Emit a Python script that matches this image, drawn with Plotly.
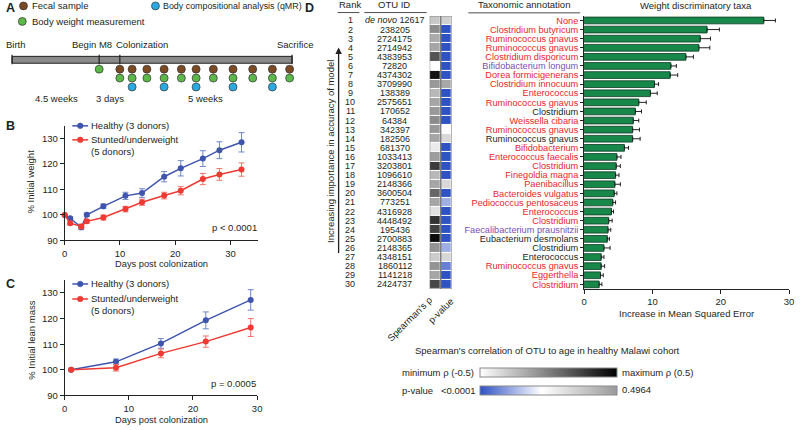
import plotly.graph_objects as go

FONT = "Liberation Sans, Arial, sans-serif"
TXT = "#231f20"
W, H = 800, 430

# ---------------- Panel A (schematic timeline; positions in schematic days) ----------------
birth_pos = -21.9
m8_pos = -4.2
colon_pos = 0.0
sacrifice_pos = 35.0
sample_days = [0, 2.5, 5.5, 9, 12.5, 15.5, 19, 23, 27, 31, 34.5]
qmr_days = [2.5, 9, 15.5, 23, 31]
m8_weight_day = [-4.2]

# ---------------- Panel B: % initial weight ----------------
days_w = [0, 1, 3, 4, 7, 11, 14, 18, 21, 25, 28, 32]
healthy_w = [100, 98.7, 95.2, 100.1, 103.4, 107.5, 108.6, 115.0, 118.3, 122.1, 125.4, 128.5]
healthy_w_err = [0, 0.5, 1.0, 0.6, 0.9, 1.4, 1.7, 2.0, 3.0, 3.1, 3.3, 3.8]
stunted_w = [100, 96.8, 95.5, 97.5, 99.0, 102.3, 105.0, 107.6, 109.5, 114.1, 115.9, 117.8]
stunted_w_err = [0, 0.7, 0.9, 0.7, 1.0, 1.1, 1.2, 1.3, 1.6, 2.2, 2.3, 2.6]

# ---------------- Panel C: % initial lean mass ----------------
days_l = [1, 8, 15, 22, 29]
healthy_l = [100, 103.1, 110.3, 119.3, 127.3]
healthy_l_err = [0, 1.1, 1.9, 3.3, 4.0]
stunted_l = [100, 100.8, 106.4, 111.0, 116.5]
stunted_l_err = [0, 1.3, 1.7, 2.2, 3.5]

# ---------------- Panel D ----------------
ranks = list(range(1, 31))
otu_ids = ["<i>de novo</i> 12617", "238205", "2724175", "2714942", "4383953", "72820", "4374302",
           "3709990", "138389", "2575651", "170652", "64384", "342397", "182506", "681370",
           "1033413", "3203801", "1096610", "2148366", "3600504", "773251", "4316928", "4448492",
           "195436", "2700883", "2148365", "4348151", "1860112", "1141218", "2424737"]
taxa = ["None", "Clostridium butyricum", "Ruminococcus gnavus", "Ruminococcus gnavus",
        "Clostridium disporicum", "Bifidobacterium longum", "Dorea formicigenerans",
        "Clostridium innocuum", "Enterococcus", "Ruminococcus gnavus", "Clostridium",
        "Weissella cibaria", "Ruminococcus gnavus", "Ruminococcus gnavus", "Bifidobacterium",
        "Enterococcus faecalis", "Clostridium", "Finegoldia magna", "Paenibacillus",
        "Bacteroides vulgatus", "Pediococcus pentosaceus", "Enterococcus", "Clostridium",
        "Faecalibacterium prausnitzii", "Eubacterium desmolans", "Clostridium", "Enterococcus",
        "Ruminococcus gnavus", "Eggerthella", "Clostridium"]
taxa_group = ["r", "r", "r", "r", "r", "p", "r", "r", "r", "r", "k", "r", "r", "k", "r",
              "r", "r", "r", "r", "r", "r", "r", "r", "p", "k", "k", "k", "r", "r", "r"]
mse = [26.3, 18.0, 17.0, 16.8, 14.9, 12.7, 12.6, 10.3, 9.7, 8.0, 7.5, 7.2, 7.1, 7.1, 5.9,
       4.8, 4.7, 4.6, 4.5, 4.4, 4.2, 4.0, 3.6, 3.5, 3.4, 2.9, 2.5, 2.5, 2.4, 2.2]
mse_err = [1.7, 1.8, 1.5, 1.6, 1.1, 0.8, 1.1, 0.6, 1.0, 1.1, 0.9, 0.8, 1.0, 1.1, 0.6,
           0.6, 0.6, 0.5, 0.8, 0.4, 0.4, 0.3, 0.5, 0.4, 0.3, 0.9, 0.4, 0.5, 0.4, 0.4]
rho = [-0.28, -0.05, -0.17, -0.15, 0.17, -0.5, 0.43, -0.1, -0.22, -0.15, -0.1, -0.05, -0.1,
       -0.15, -0.42, -0.12, 0.27, -0.22, -0.15, 0.1, -0.15, -0.38, 0.3, 0.25, 0.45, -0.08,
       -0.3, -0.08, -0.15, 0.22]
pval = [0.35, 0.001, 0.001, 0.001, 0.001, 0.001, 0.001, 0.46, 0.001, 0.001, 0.001, 0.001,
        0.23, 0.33, 0.001, 0.001, 0.001, 0.001, 0.33, 0.001, 0.12, 0.001, 0.001, 0.001,
        0.001, 0.12, 0.33, 0.06, 0.001, 0.001]

GROUP_COLORS = {"r": "#e8262b", "p": "#7a4fb3", "k": "#231f20"}
BLUE = "#3f55ad"
RED = "#ee3a33"
BROWN = "#7b4a22"
GREEN = "#5bb849"
CYAN = "#2ba9e1"
BARGREEN = "#17884a"


def px(x):
    return x / W


def py(y):
    return 1 - y / H


annotations = []
shapes = []


def txt(s, x, y, size=9.3, anchor="left", color=TXT, **kw):
    annotations.append(dict(text=s, x=px(x), y=py(y), xref="paper", yref="paper",
                            xanchor=anchor, yanchor="middle", showarrow=False,
                            font=dict(size=size, color=color, family=FONT), **kw))


def pline(x0, y0, x1, y1, color=TXT, width=1):
    shapes.append(dict(type="line", xref="paper", yref="paper", x0=px(x0), y0=py(y0),
                       x1=px(x1), y1=py(y1), line=dict(color=color, width=width)))


def pcircle(cx, cy, r, fill, line="#333333"):
    shapes.append(dict(type="circle", xref="paper", yref="paper", x0=px(cx - r), x1=px(cx + r),
                       y0=py(cy + r), y1=py(cy - r), fillcolor=fill,
                       line=dict(color=line, width=0.7)))


fig = go.Figure()

# ---------- Panel A ----------
mk = dict(size=8, line=dict(color="#333333", width=0.7))
fig.add_trace(go.Scatter(x=sample_days, y=[1] * len(sample_days), mode="markers",
                         marker=dict(color=BROWN, **mk), xaxis="x5", yaxis="y5", cliponaxis=False))
fig.add_trace(go.Scatter(x=sample_days, y=[2] * len(sample_days), mode="markers",
                         marker=dict(color=GREEN, **mk), xaxis="x5", yaxis="y5", cliponaxis=False))
fig.add_trace(go.Scatter(x=m8_weight_day, y=[1], mode="markers",
                         marker=dict(color=GREEN, **mk), xaxis="x5", yaxis="y5", cliponaxis=False))
fig.add_trace(go.Scatter(x=qmr_days, y=[3] * len(qmr_days), mode="markers",
                         marker=dict(color=CYAN, **mk), xaxis="x5", yaxis="y5", cliponaxis=False))
shapes.append(dict(type="rect", xref="x5", yref="y5", x0=birth_pos, x1=sacrifice_pos,
                   y0=-0.44, y1=0.33, fillcolor="#8a8a8a", line=dict(color="#222222", width=1)))
for pos in [birth_pos, m8_pos, colon_pos, sacrifice_pos]:
    shapes.append(dict(type="line", xref="x5", yref="y5", x0=pos, x1=pos, y0=-0.62, y1=0.45,
                       line=dict(color="#222222", width=1.2)))

txt("<b>A</b>", 1, 8, size=12.5)
pcircle(20.7, 6, 4, BROWN)
pcircle(19.5, 21.7, 4, GREEN)
pcircle(154, 6, 4, CYAN)
txt("Fecal sample", 27, 6, size=9.5)
txt("Body weight measurement", 27, 22, size=9.5)
txt("Body compositional analysis (qMR)", 160, 6, size=8.9)
txt("Birth", 1, 45, size=9.5)
txt("Begin M8", 90, 45, size=9.5, anchor="center")
txt("Colonization", 112, 45, size=9.5)
txt("Sacrifice", 295, 45, size=9.5, anchor="center")
txt("4.5 weeks", 54, 100, size=9.5, anchor="center")
txt("3 days", 108, 100, size=9.5, anchor="center")
txt("5 weeks", 205, 100, size=9.5, anchor="center")

# ---------- Panel B ----------
def err(arr, color):
    return dict(type="data", array=arr, visible=True, color=color, thickness=1, width=3)


fig.add_trace(go.Scatter(x=days_w, y=healthy_w, mode="lines+markers", xaxis="x", yaxis="y",
                         line=dict(color=BLUE, width=1.5), marker=dict(color=BLUE, size=6),
                         error_y=err(healthy_w_err, "#6f86c8"), cliponaxis=False))
fig.add_trace(go.Scatter(x=days_w, y=stunted_w, mode="lines+markers", xaxis="x", yaxis="y",
                         line=dict(color=RED, width=1.5), marker=dict(color=RED, size=6),
                         error_y=err(stunted_w_err, "#f0736c"), cliponaxis=False))

# ---------- Panel C ----------
fig.add_trace(go.Scatter(x=days_l, y=healthy_l, mode="lines+markers", xaxis="x2", yaxis="y2",
                         line=dict(color=BLUE, width=1.5), marker=dict(color=BLUE, size=6),
                         error_y=err(healthy_l_err, "#6f86c8"), cliponaxis=False))
fig.add_trace(go.Scatter(x=days_l, y=stunted_l, mode="lines+markers", xaxis="x2", yaxis="y2",
                         line=dict(color=RED, width=1.5), marker=dict(color=RED, size=6),
                         error_y=err(stunted_l_err, "#f0736c"), cliponaxis=False))

for (lab, ytop) in [("B", 127), ("C", 287)]:
    txt(f"<b>{lab}</b>", 1, ytop, size=12.5)
    yb = ytop + 0.3
    yr = ytop + 14.5 if lab == "B" else ytop + 15.5
    pline(70, yb, 86, yb, BLUE, 1.5)
    pcircle(78, yb, 2.8, BLUE, BLUE)
    pline(70, yr, 86, yr, RED, 1.5)
    pcircle(78, yr, 2.8, RED, RED)
    txt("Healthy (3 donors)", 87, yb, size=9.5)
    txt("Stunted/underweight", 87, yr, size=9.5)
    txt("(5 donors)", 87, yr + 12, size=9.5)

txt("% Initial weight", 28, 184, size=9.5, anchor="center", textangle=-90)
txt("p < 0.0001", 259, 230, size=9.5, anchor="right")
txt("Days post colonization", 160, 267, size=9.3, anchor="center")
txt("% Initial lean mass", 28, 344, size=9.5, anchor="center", textangle=-90)
txt("p = 0.0005", 258, 388, size=9.5, anchor="right")
txt("Days post colonization", 160, 424.5, size=9.3, anchor="center")

# ---------- Panel D bars ----------
fig.add_trace(go.Bar(x=mse, y=ranks, orientation="h", xaxis="x3", yaxis="y3", width=0.74,
                     marker=dict(color=BARGREEN, line=dict(color="#0b3a1f", width=0.8)),
                     error_x=dict(type="data", array=mse_err, arrayminus=[0] * len(mse_err),
                                  symmetric=False, color="#222222", thickness=1, width=2)))

# ---------- Panel D heatmaps ----------
fig.add_trace(go.Heatmap(z=[[v] for v in rho], x=[0], y=ranks, xaxis="x4", yaxis="y3",
                         zmin=-0.5, zmax=0.5, ygap=1, xgap=1,
                         colorscale=[[0, "#ffffff"], [1, "#000000"]],
                         colorbar=dict(orientation="h", x=px(550.8), xanchor="center",
                                       y=py(377.2), yanchor="middle", len=138.5 / W,
                                       lenmode="fraction", thickness=9, thicknessmode="pixels",
                                       outlinewidth=1, outlinecolor="#8a8a8a",
                                       showticklabels=False, ticks="", xpad=0, ypad=0)))
fig.add_trace(go.Heatmap(z=[[v] for v in pval], x=[1], y=ranks, xaxis="x4", yaxis="y3",
                         zmin=0, zmax=0.4964, ygap=1, xgap=1,
                         colorscale=[[0, "#2f52c4"], [0.45, "#ffffff"], [1, "#9a9a9a"]],
                         colorbar=dict(orientation="h", x=px(550.8), xanchor="center",
                                       y=py(395.3), yanchor="middle", len=138.5 / W,
                                       lenmode="fraction", thickness=9, thicknessmode="pixels",
                                       outlinewidth=1, outlinecolor="#8a8a8a",
                                       showticklabels=False, ticks="", xpad=0, ypad=0)))
for c in [0, 1]:
    shapes.append(dict(type="rect", xref="x4", yref="y3", x0=c - 0.5, x1=c + 0.5,
                       y0=0.5, y1=30.5, line=dict(color="#7a7a7a", width=1)))

# table text
txt("<b>D</b>", 303, 8, size=12.5)
txt("Rank", 350, 5, size=9.5, anchor="center")
txt("OTU ID", 395, 5, size=9.5, anchor="center")
pline(338, 12.7, 360, 12.7, TXT, 0.8)
pline(365, 12.7, 428, 12.7, TXT, 0.8)
txt("Taxonomic annotation", 526, 5, size=9.5, anchor="center")
pline(470, 13, 583, 13, TXT, 0.8)
txt("Weight discriminatory taxa", 700, 6, size=9.5, anchor="center")
for r, oid in zip(ranks, otu_ids):
    annotations.append(dict(text=str(r), x=px(351), xref="paper", y=r, yref="y3",
                            xanchor="center", yanchor="middle", showarrow=False,
                            font=dict(size=9.0, color=TXT, family=FONT)))
    annotations.append(dict(text=oid, x=px(395.5), xref="paper", y=r, yref="y3",
                            xanchor="center", yanchor="middle", showarrow=False,
                            font=dict(size=9.0, color=TXT, family=FONT)))

txt("Increasing importance in accuracy of model", 331, 153, size=9.5, anchor="center",
    textangle=-90)
annotations.append(dict(text="", x=px(339), y=py(48), xref="paper", yref="paper",
                        ax=0, ay=207, axref="pixel", ayref="pixel", showarrow=True,
                        arrowhead=2, arrowsize=1, arrowwidth=1.3, arrowcolor=TXT))
txt("Spearman's ρ", 411, 322, size=9.5, anchor="center", textangle=-45)
txt("p-value", 442, 314, size=9.5, anchor="center", textangle=-45)

# legend texts for colour bars
txt("Spearman's correlation of OTU to age in healthy Malawi cohort", 550, 355, size=9.5,
    anchor="center")
txt("minimum ρ (-0.5)", 478, 377, size=9.5, anchor="right")
txt("maximum ρ (0.5)", 623, 377, size=9.5, anchor="left")
txt("p-value", 401, 395, size=9.5, anchor="left")
txt("<0.0001", 480, 395, size=9.5, anchor="right")
txt("0.4964", 623, 394, size=9.5, anchor="left")
txt("Increase in Mean Squared Error", 690, 317, size=9.5, anchor="center")

ticktext = [f'<span style="color:{GROUP_COLORS[g]}">{t}</span>' for t, g in zip(taxa, taxa_group)]

axis_common = dict(showline=True, linecolor="#222222", linewidth=1, ticks="outside",
                   ticklen=4, tickwidth=1, tickcolor="#222222", showgrid=False, zeroline=False,
                   tickfont=dict(size=9.5, color=TXT, family=FONT))

fig.update_layout(
    width=W, height=H, margin=dict(l=0, r=0, t=0, b=0),
    paper_bgcolor="white", plot_bgcolor="white", showlegend=False,
    font=dict(family=FONT, color=TXT),
    xaxis=dict(domain=[px(62.3), px(257.7)], range=[0, 35], tickvals=[0, 10, 20, 30],
               anchor="y", **axis_common),
    yaxis=dict(domain=[py(243.3), py(127.2)], range=[90, 135],
               tickvals=[90, 100, 110, 120, 130], anchor="x", **axis_common),
    xaxis2=dict(domain=[px(62.3), px(256.7)], range=[0, 30], tickvals=[0, 10, 20, 30],
                anchor="y2", **axis_common),
    yaxis2=dict(domain=[py(400), py(283.5)], range=[90, 135],
                tickvals=[90, 100, 110, 120, 130], anchor="x2", **axis_common),
    xaxis3=dict(domain=[px(587), px(794)], range=[0, 30], tickvals=[0, 10, 20, 30],
                anchor="y3", **axis_common),
    yaxis3=dict(domain=[py(292.3), py(16.1)], range=[30.5, 0.5], tickvals=ranks,
                ticktext=ticktext, anchor="x3",
                **{**axis_common, "ticklen": 3,
                   "tickfont": dict(size=9.2, color=TXT, family=FONT)}),
    xaxis4=dict(domain=[px(431), px(453.3)], range=[-0.5, 1.5], anchor="y3", visible=False),
    xaxis5=dict(domain=[0, px(300)], range=[-23.74, 36.61], anchor="y5", visible=False),
    yaxis5=dict(domain=[py(105), py(40)], range=[4.889, -2.333], anchor="x5", visible=False),
    annotations=annotations,
    shapes=shapes,
)

fig.write_html("out.html", config={"displayModeBar": False},
               post_script="document.body.style.margin='0';document.body.style.overflow='hidden';")
